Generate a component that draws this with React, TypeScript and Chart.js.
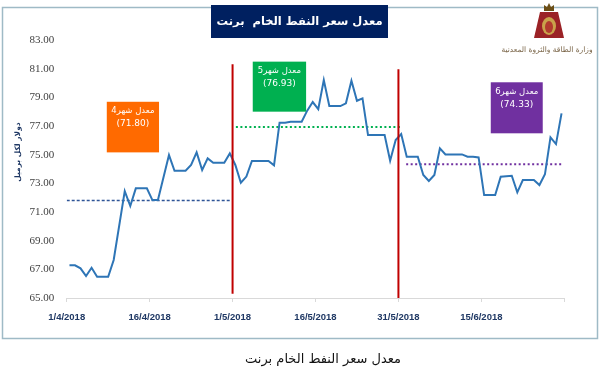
import React, { useEffect, useRef } from "react";
import { Chart, registerables } from "chart.js";

Chart.register(...registerables);

// ---- data ----
const dates = [
  "1/4/2018", "2/4/2018", "3/4/2018", "4/4/2018", "5/4/2018", "6/4/2018", "8/4/2018", "9/4/2018",
  "11/4/2018", "12/4/2018", "13/4/2018", "15/4/2018", "16/4/2018", "17/4/2018", "19/4/2018", "20/4/2018",
  "22/4/2018", "23/4/2018", "24/4/2018", "25/4/2018", "26/4/2018", "27/4/2018", "29/4/2018", "30/4/2018",
  "1/5/2018", "2/5/2018", "3/5/2018", "4/5/2018", "7/5/2018", "8/5/2018", "9/5/2018", "10/5/2018",
  "11/5/2018", "13/5/2018", "14/5/2018", "15/5/2018", "16/5/2018", "17/5/2018", "18/5/2018", "20/5/2018",
  "21/5/2018", "22/5/2018", "23/5/2018", "24/5/2018", "25/5/2018", "28/5/2018", "29/5/2018", "30/5/2018",
  "31/5/2018", "1/6/2018", "3/6/2018", "4/6/2018", "5/6/2018", "6/6/2018", "7/6/2018", "8/6/2018",
  "11/6/2018", "12/6/2018", "13/6/2018", "14/6/2018", "15/6/2018", "17/6/2018", "18/6/2018", "20/6/2018",
  "21/6/2018", "22/6/2018", "24/6/2018", "25/6/2018", "26/6/2018", "27/6/2018", "28/6/2018", "29/6/2018",
];
const prices = [
  67.28, 67.28, 67.07, 66.53, 67.11, 66.48, 66.48, 67.65,
  72.46, 71.42, 72.65, 72.65, 71.83, 71.83, 74.97, 73.88,
  73.88, 74.28, 75.16, 73.93, 74.74, 74.44, 74.44, 75.09,
  74.28, 73.04, 73.47, 74.56, 74.56, 74.26, 77.23, 77.23,
  77.3, 77.3, 78.07, 78.67, 78.18, 80.21, 78.39, 78.39,
  78.58, 80.16, 78.76, 78.93, 76.37, 76.37, 74.58, 76.02,
  76.44, 74.86, 74.86, 73.58, 73.16, 73.58, 75.44, 75.02,
  75.02, 74.86, 74.86, 74.81, 72.18, 72.18, 73.46, 73.53,
  72.37, 73.23, 73.23, 72.88, 73.63, 76.21, 75.74, 77.88,
];
const tickLabels = ["1/4/2018", "16/4/2018", "1/5/2018", "16/5/2018", "31/5/2018", "15/6/2018"];
const yMin = 65;
const yMax = 83;
const yStep = 2;

const monthLabels = ["معدل شهر4", "معدل شهر5", "معدل شهر6"];
const monthAverages = [71.8, 76.93, 74.33];
// day ranges (days since 1/4/2018) covered by each average line
const avgStartDays = [0, 30.6, 61.4];
const avgEndDays = [29.6, 60.6, 89.6];
const monthColors = ["#FF6A00", "#00B050", "#7030A0"];
const avgLineColors = ["#2F5597", "#00B050", "#7030A0"];
// note boxes, in data units (day, price)
const boxDayFrom = [7.25, 33.65, 76.7];
const boxDayTo = [16.7, 43.3, 86.1];
const boxPriceTop = [78.69, 81.49, 80.05];
const boxPriceBottom = [75.16, 78.0, 76.49];

// month separators
const separatorDates = ["1/5/2018", "31/5/2018"];
const separatorFrom = [65.3, 65.0];
const separatorTo = [81.3, 80.96];

const chartTitle = "معدل سعر النفط الخام  برنت";
const captionText = "معدل سعر النفط الخام برنت";
const yAxisTitle = "دولار لكل برميل";
const ministryText = "وزارة الطاقة والثروة المعدنية";

const BASE = Date.UTC(2018, 3, 1);
function dayOf(s: string): number {
  const [d, m, y] = s.split("/").map(Number);
  return (Date.UTC(y, m - 1, d) - BASE) / 86400000;
}

function fitFont(ctx: CanvasRenderingContext2D, text: string, weight: string, size: number, family: string, maxW: number) {
  let s = size;
  ctx.font = `${weight} ${s}px ${family}`;
  while (ctx.measureText(text).width > maxW && s > 6) {
    s -= 0.5;
    ctx.font = `${weight} ${s}px ${family}`;
  }
}

const decor = {
  id: "decor",
  beforeDraw(chart: any) {
    const ctx = chart.ctx as CanvasRenderingContext2D;
    ctx.save();
    ctx.fillStyle = "#ffffff";
    ctx.fillRect(0, 0, chart.width, chart.height);
    ctx.strokeStyle = "#9FBAC6";
    ctx.lineWidth = 1.5;
    ctx.strokeRect(2.5, 7.5, 595, 331);
    ctx.restore();
  },
  afterDatasetsDraw(chart: any) {
    const ctx = chart.ctx as CanvasRenderingContext2D;
    const xs = chart.scales.x;
    const ys = chart.scales.y;
    ctx.save();
    for (let i = 0; i < monthLabels.length; i++) {
      const x0 = xs.getPixelForValue(boxDayFrom[i]);
      const x1 = xs.getPixelForValue(boxDayTo[i]);
      const y0 = ys.getPixelForValue(boxPriceTop[i]);
      const y1 = ys.getPixelForValue(boxPriceBottom[i]);
      ctx.fillStyle = monthColors[i];
      ctx.fillRect(x0, y0, x1 - x0, y1 - y0);
      ctx.fillStyle = "#ffffff";
      ctx.textAlign = "center";
      ctx.textBaseline = "middle";
      ctx.font = "8.5px 'DejaVu Sans', sans-serif";
      const cx = (x0 + x1) / 2;
      ctx.fillText(monthLabels[i], cx, y0 + 9.5);
      ctx.font = "9px 'DejaVu Sans', sans-serif";
      ctx.fillText("(" + monthAverages[i].toFixed(2) + ")", cx, y0 + 22);
    }
    ctx.restore();
  },
  afterDraw(chart: any) {
    const ctx = chart.ctx as CanvasRenderingContext2D;
    ctx.save();
    // title box
    ctx.fillStyle = "#002060";
    ctx.fillRect(211, 5, 177, 33);
    ctx.fillStyle = "#ffffff";
    ctx.textAlign = "center";
    ctx.textBaseline = "middle";
    fitFont(ctx, chartTitle, "bold", 17, "'DejaVu Sans', sans-serif", 168);
    ctx.fillText(chartTitle, 299.5, 22);

    // caption under the frame
    ctx.fillStyle = "#111111";
    fitFont(ctx, captionText, "normal", 15, "'DejaVu Serif', 'DejaVu Sans', serif", 157);
    ctx.fillText(captionText, 323, 360);

    // y-axis title
    ctx.save();
    ctx.translate(18, 152);
    ctx.rotate(-Math.PI / 2);
    ctx.fillStyle = "#1F3864";
    fitFont(ctx, yAxisTitle, "bold", 10, "'DejaVu Sans', sans-serif", 60);
    ctx.fillText(yAxisTitle, 0, 0);
    ctx.restore();

    // emblem (simplified)
    const ex = 549;
    ctx.fillStyle = "#9B2226";
    ctx.beginPath();
    ctx.moveTo(540, 12);
    ctx.lineTo(558, 12);
    ctx.lineTo(564, 38);
    ctx.lineTo(534, 38);
    ctx.closePath();
    ctx.fill();
    ctx.fillStyle = "#6B4E16";
    ctx.beginPath();
    ctx.moveTo(ex - 5, 11);
    ctx.lineTo(ex - 5, 5);
    ctx.lineTo(ex - 2, 7);
    ctx.lineTo(ex, 3);
    ctx.lineTo(ex + 2, 7);
    ctx.lineTo(ex + 5, 5);
    ctx.lineTo(ex + 5, 11);
    ctx.closePath();
    ctx.fill();
    ctx.fillStyle = "#C9A24A";
    ctx.beginPath();
    ctx.ellipse(ex, 26, 7, 9, 0, 0, Math.PI * 2);
    ctx.fill();
    ctx.fillStyle = "#B23A2E";
    ctx.beginPath();
    ctx.ellipse(ex, 27, 4, 6, 0, 0, Math.PI * 2);
    ctx.fill();

    // ministry name
    ctx.fillStyle = "#7A6548";
    fitFont(ctx, ministryText, "normal", 9, "'DejaVu Sans', sans-serif", 95);
    ctx.fillText(ministryText, 547, 50);
    ctx.restore();
  },
};

export default function App() {
  const ref = useRef<HTMLCanvasElement | null>(null);

  useEffect(() => {
    if (!ref.current) return;
    const mainData = dates.map((d, i) => ({ x: dayOf(d) + 0.5, y: prices[i] }));

    const avgSets = monthAverages.map((v, i) => ({
      data: [
        { x: avgStartDays[i], y: v },
        { x: avgEndDays[i], y: v },
      ],
      borderColor: avgLineColors[i],
      borderWidth: i === 0 ? 1.5 : 2,
      borderDash: i === 0 ? [3, 2] : [2, 2.5],
      pointRadius: 0,
      fill: false,
      order: 2,
    }));

    const sepSets = separatorDates.map((d, i) => ({
      data: [
        { x: dayOf(d), y: separatorFrom[i] },
        { x: dayOf(d), y: separatorTo[i] },
      ],
      borderColor: "#C00000",
      borderWidth: 2,
      pointRadius: 0,
      fill: false,
      order: 0,
    }));

    const chart = new Chart(ref.current, {
      type: "line",
      data: {
        datasets: [
          {
            data: mainData,
            borderColor: "#2E75B6",
            borderWidth: 2,
            pointRadius: 0,
            tension: 0,
            fill: false,
            order: 1,
          },
          ...avgSets,
          ...sepSets,
        ] as any,
      },
      options: {
        animation: false,
        responsive: false,
        events: [],
        layout: { padding: { top: 40, right: 35.7, bottom: 54, left: 0 } },
        plugins: {
          legend: { display: false },
          tooltip: { enabled: false },
          title: { display: false },
        },
        scales: {
          x: {
            type: "linear",
            min: 0,
            max: 90,
            afterFit: (s: any) => {
              s.height = 30;
            },
            afterBuildTicks: (s: any) => {
              s.ticks = [0, 15, 30, 45, 60, 75, 90].map((v) => ({ value: v }));
            },
            ticks: {
              autoSkip: false,
              maxRotation: 0,
              padding: 10,
              color: "#1F3864",
              font: { family: "'Liberation Sans', Arial, sans-serif", size: 9.5, weight: "bold" },
              callback: (_v: any, i: number) => tickLabels[i] ?? "",
            },
            grid: { drawOnChartArea: false, drawTicks: true, tickLength: 4, color: "#D9D9D9" },
            border: { color: "#D9D9D9", width: 1 },
          },
          y: {
            min: yMin,
            max: yMax,
            afterFit: (s: any) => {
              s.width = 66.7;
            },
            ticks: {
              stepSize: yStep,
              padding: 12.5,
              color: "#404040",
              font: { family: "'Liberation Serif', 'Times New Roman', serif", size: 11 },
              callback: (v: any) => Number(v).toFixed(2),
            },
            grid: { display: false, drawTicks: false },
            border: { display: false },
          },
        },
      },
      plugins: [decor],
    } as any);

    return () => chart.destroy();
  }, []);

  return (
    <div style={{ position: "fixed", left: 0, top: 0, width: 600, height: 382, background: "#fff" }}>
      <canvas ref={ref} width={600} height={382} style={{ width: 600, height: 382, display: "block" }} />
    </div>
  );
}
